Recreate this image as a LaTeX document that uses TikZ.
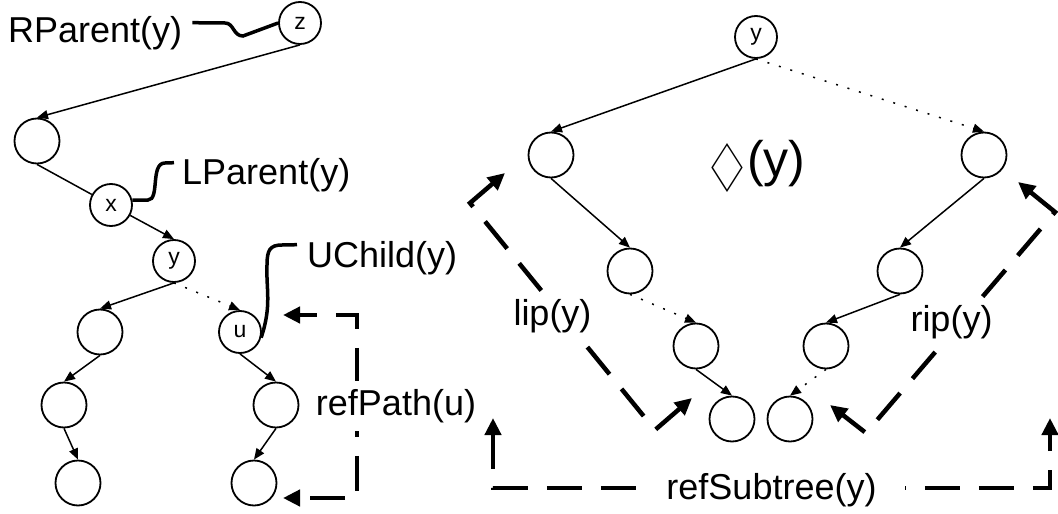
\documentclass[tikz,border=0pt]{standalone}
\usepackage{fontspec}
\setmainfont{Liberation Sans}
\newfontfamily\suitfont{DejaVu Sans}
\usetikzlibrary{arrows.meta,calc}
\begin{document}
\begin{tikzpicture}[x=1pt,y=-1pt,
  every node/.style={inner sep=0pt},
  vtx/.style={circle,draw,line width=1.8pt,minimum size=45pt},
  lvtx/.style={vtx,minimum size=42pt,font=\fontsize{23pt}{25pt}\selectfont},
  treeline/.style={line width=1.5pt},
  treearrow/.style={treeline,-{Triangle[length=11pt,width=9pt]}},
  dotarrow/.style={treearrow,dash pattern=on 2pt off 10pt},
  pointer/.style={line width=3.5pt},
  lbl/.style={font=\fontsize{36pt}{40pt}\selectfont},
  bracketline/.style={line width=4.5pt,dash pattern=on 35pt off 19pt,
    {Triangle[length=17pt,width=16pt]}-{Triangle[length=17pt,width=16pt]}},
  cutlbl/.style={lbl,fill=white,inner sep=3pt}
]
\useasboundingbox (0,0) rectangle (1058,514);

% ---- left tree ----
\node[lvtx] (z)  at (300,23)  {z};
\node[vtx]  (A)  at (37,141)  {};
\node[lvtx] (x)  at (111,205) {x};
\node[lvtx] (yL) at (174,261) {y};
\node[vtx]  (L1) at (100,332) {};
\node[vtx]  (L2) at (64,405)  {};
\node[vtx]  (L3) at (78,483)  {};
\node[lvtx] (u)  at (240,332) {u};
\node[vtx]  (R2) at (276,405) {};
\node[vtx]  (R3) at (254,483) {};

\draw[treearrow] (z.south) -- (A.north);
\draw[treeline]  (A.south) -- (x);
\draw[treearrow] (x) -- (yL.north);
\draw[treearrow] (yL.south) -- (L1.north);
\draw[dotarrow]  (yL.south) -- (u.north);
\draw[treearrow] (L1.south) -- (L2.north);
\draw[treearrow] (L2.south) -- (L3.north);
\draw[treearrow] (u.south) -- (R2.north);
\draw[treearrow] (R2.south) -- (R3.north);

% ---- labels with pointers ----
\node[lbl,anchor=base west] (rp) at (8,42)    {RParent(y)};
\node[lbl,anchor=base west] (lp) at (182,184) {LParent(y)};
\node[lbl,anchor=base west] (uc) at (307,267) {UChild(y)};

\draw[pointer] ($(rp.east)+(10,-10)$) -- (225,23)
  .. controls (234,23) and (233,36) .. (243,36) -- (z.west);
\draw[pointer] (x.13) -- (148,200)
  .. controls (160,200) and (150,163) .. (165,163) -- ($(lp.west)+(-8,-12)$);
\draw[pointer] (u.-15) .. controls (272,305) and (266,290) .. (267,265)
  .. controls (267,250) and (270,245) .. (282,245) -- ($(uc.west)+(-10,-13)$);

% ---- right tree ----
\node[lvtx] (yR) at (756,37)  {y};
\node[vtx]  (P1) at (551,155) {};
\node[vtx]  (P2) at (630,271) {};
\node[vtx]  (P3) at (696,346) {};
\node[vtx]  (P4) at (732,419) {};
\node[vtx]  (Q1) at (984,155) {};
\node[vtx]  (Q2) at (900,271) {};
\node[vtx]  (Q3) at (826,346) {};
\node[vtx]  (Q4) at (790,419) {};

\draw[treearrow] (yR.south) -- (P1.north);
\draw[dotarrow]  (yR.south) -- (Q1.north);
\draw[treearrow] (P1.south) -- (P2.north);
\draw[dotarrow]  (P2.south) -- (P3.north);
\draw[treearrow] (P3.south) -- (P4.north);
\draw[treearrow] (Q1.south) -- (Q2.north);
\draw[treearrow] (Q2.south) -- (Q3.north);
\draw[dotarrow]  (Q3.south) -- (Q4.north);

\node[anchor=base west,font=\fontsize{50pt}{56pt}\selectfont] (dia) at (702,176)
  {{\suitfont\raisebox{-16pt}{\resizebox*{50pt}{49pt}{♢}}}\kern-5pt(y)};

% ---- dashed brackets ----
\coordinate (rpT)  at (283,315);
\coordinate (rpTc) at (357,315);
\coordinate (rpBc) at (357,498);
\coordinate (rpB)  at (283,498);
\draw[bracketline,dash phase=17pt] (rpT) -- (rpTc) -- (rpBc) -- (rpB);
\node[cutlbl,inner ysep=8pt] (rpath) at (396,406) {refPath(u)};

\coordinate (lT)  at (505,173);
\coordinate (lTc) at (470,203);
\coordinate (lBc) at (655,430);
\coordinate (lB)  at (692,398);
\draw[bracketline] (lT) -- (lTc) -- node[cutlbl,xshift=-10pt] (lip) {lip(y)} (lBc) -- (lB);

\coordinate (rT)  at (1018,182);
\coordinate (rTc) at (1055,212);
\coordinate (rBc) at (866,433);
\coordinate (rB)  at (830,405);
\draw[bracketline] (rT) -- (rTc) -- node[cutlbl,xshift=-9pt] (rip) {rip(y)} (rBc) -- (rB);

\coordinate (sL)  at (493,418);
\coordinate (sLc) at (493,488);
\coordinate (sRc) at (1050,488);
\coordinate (sR)  at (1050,418);
\draw[bracketline] (sL) -- (sLc) -- node[cutlbl,inner xsep=28pt,yshift=-2pt] (rsub) {refSubtree(y)} (sRc) -- (sR);
\end{tikzpicture}
\end{document}
